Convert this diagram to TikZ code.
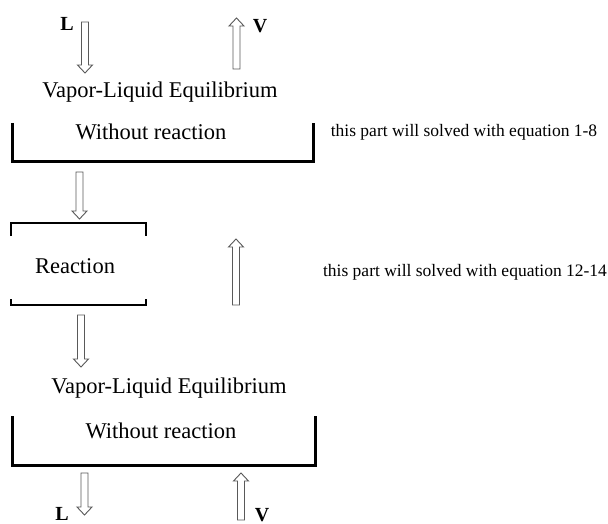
\documentclass[tikz,border=0pt]{standalone}
\usepackage{fontspec}
\setmainfont{Liberation Serif}
\begin{document}
\begin{tikzpicture}[x=1pt,y=-1pt,
    every node/.style={inner sep=0pt,font=\fontsize{22.5}{26}\selectfont},
    note/.style={font=\fontsize{17.5}{20}\selectfont},
    stream/.style={font=\fontsize{20}{22}\selectfont\bfseries},
    flowline/.style={draw=black!65,fill=white,line width=.9pt,line join=miter},
    bracketline/.style={line width=3pt,line join=miter},
    pics/flowdown/.style={code={
        \draw[flowline] (-3.5,0) -- (-3.5,#1-8) -- (-7.5,#1-8) -- (0,#1)
            -- (7.5,#1-8) -- (3.5,#1-8) -- (3.5,0) -- cycle;}},
    pics/flowup/.style={code={
        \draw[flowline] (0,0) -- (7.5,8) -- (3.5,8) -- (3.5,#1)
            -- (-3.5,#1) -- (-3.5,8) -- (-7.5,8) -- cycle;}}]
    \useasboundingbox (0,0) rectangle (608,524);
    % upper stage
    \node[stream,anchor=base] (Ltop) at (67,31) {L};
    \node[stream,anchor=base] (Vtop) at (260,33) {V};
    \pic at (85,22) {flowdown=51};
    \pic at (236.5,18) {flowup=51};
    \node[anchor=base] (vle1) at (160,98) {Vapor-Liquid Equilibrium};
    \node[anchor=base] (wr1) at (151,140) {Without reaction};
    \draw[bracketline] (12,123) -- (12,162) -- (313,162) -- (313,123);
    \node[note,anchor=base] (eq1) at (464,137) {this part will solved with equation 1-8};
    % reaction zone
    \pic at (79.5,172) {flowdown=47};
    \draw[line width=2pt] (11,236) -- (11,223) -- (146,223) -- (146,236);
    \node[anchor=base] (rx) at (75,273) {Reaction};
    \draw[line width=2pt] (11,299) -- (11,305) -- (146,305) -- (146,299);
    \pic at (236,239) {flowup=66};
    \node[note,anchor=base] (eq2) at (465,276) {this part will solved with equation 12-14};
    % lower stage
    \pic at (81,315) {flowdown=52};
    \node[anchor=base] (vle2) at (169,393) {Vapor-Liquid Equilibrium};
    \node[anchor=base] (wr2) at (161,438) {Without reaction};
    \draw[bracketline] (12,416) -- (12,465) -- (315,465) -- (315,416);
    \pic at (84.5,473) {flowdown=42};
    \pic at (241,473) {flowup=47};
    \node[stream,anchor=base] (Lbot) at (62,520) {L};
    \node[stream,anchor=base] (Vbot) at (262,521) {V};
\end{tikzpicture}
\end{document}
